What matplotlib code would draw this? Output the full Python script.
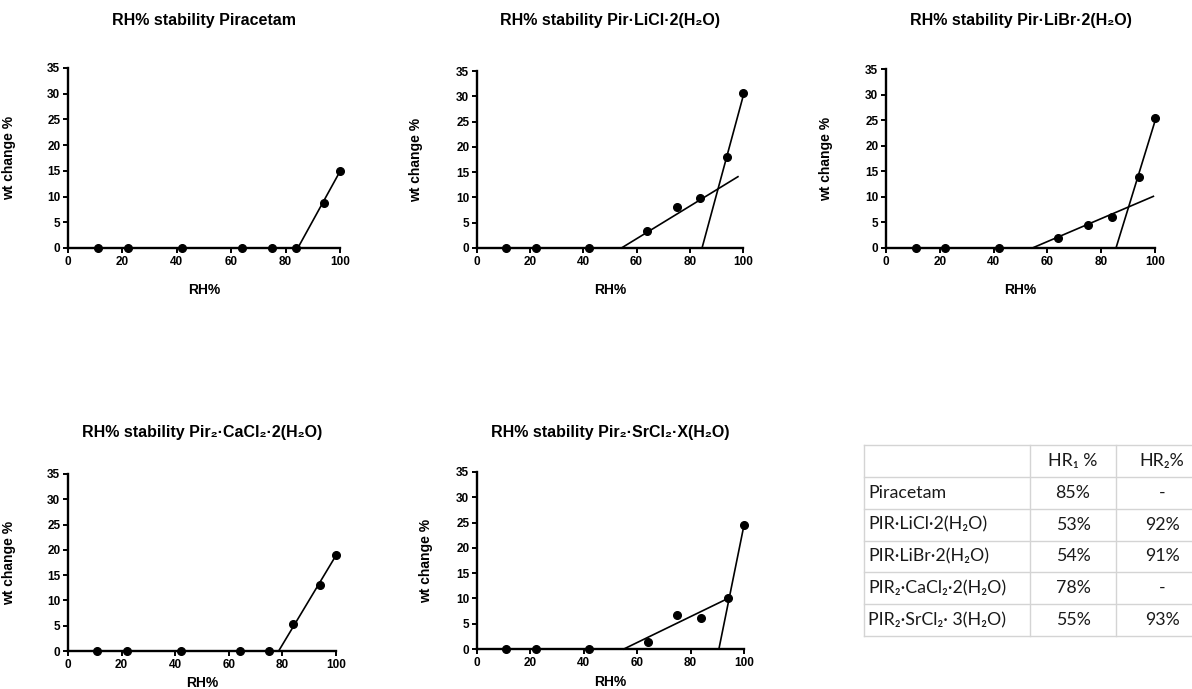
import matplotlib
matplotlib.use('Agg')
import matplotlib.pyplot as plt

plt.rcParams['font.family'] = ['Liberation Sans', 'DejaVu Sans']

W, H = 1192, 689

# RH% steps used for every sample
rh = [11, 22, 42, 64, 75, 84, 94, 100]

# weight change %
wt_pir = [0, 0, 0, 0, 0, 0, 8.8, 14.9]
wt_licl = [0, 0, 0, 3.3, 8.2, 9.9, 18.0, 30.7]
wt_libr = [0, 0, 0, 1.9, 4.4, 6.0, 13.8, 25.5]
wt_cacl = [0, 0, 0, 0, 0, 5.3, 13.1, 18.9]
wt_srcl = [0, 0, 0, 1.4, 6.8, 6.2, 10.0, 24.5]

# fitted lines, as (x ends, y ends)
fit_pir = [([84.5, 100], [0, 14.9])]
fit_licl = [([54.3, 98.1], [0, 14.1]), ([84.6, 100.4], [0, 30.7])]
fit_libr = [([54.4, 99.4], [0, 10.1]), ([85.5, 100.4], [0, 25.5])]
fit_cacl = [([78.6, 100], [0, 18.9])]
fit_srcl = [([55, 94], [0, 10.0]), ([90.6, 100], [0, 24.5])]

titles = ['RH% stability Piracetam',
          'RH% stability Pir·LiCl·2(H₂O)',
          'RH% stability Pir·LiBr·2(H₂O)',
          'RH% stability Pir₂·CaCl₂·2(H₂O)',
          'RH% stability Pir₂·SrCl₂·X(H₂O)']

# table contents
tbl_head = ['', 'HR₁ %', 'HR₂%']
tbl_rows = ['Piracetam', 'PIR·LiCl·2(H₂O)', 'PIR·LiBr·2(H₂O)',
            'PIR₂·CaCl₂·2(H₂O)', 'PIR₂·SrCl₂· 3(H₂O)']
tbl_hr1 = ['85%', '53%', '54%', '78%', '55%']
tbl_hr2 = ['-', '92%', '91%', '-', '93%']

# panel boxes in pixels: left, top, right, bottom ; title y, ylabel x, xlabel y
boxes = [(68, 68, 340, 248, 21, 16, 283),
         (477, 71, 743, 248, 21, 423, 283),
         (886, 69, 1155, 248, 21, 833, 283),
         (68, 474, 336, 651, 433, 16, 676),
         (477, 472, 744, 649, 433, 433, 675)]

series = [(wt_pir, fit_pir), (wt_licl, fit_licl), (wt_libr, fit_libr),
          (wt_cacl, fit_cacl), (wt_srcl, fit_srcl)]

fig = plt.figure(figsize=(W / 100, H / 100), dpi=100)

for (wt, fits), title, (l, t, r, b, ty, yl, xl) in zip(series, titles, boxes):
    ax = fig.add_axes([l / W, 1 - b / H, (r - l) / W, (b - t) / H])
    for fx, fy in fits:
        ax.plot(fx, fy, color='black', lw=1.2, clip_on=False)
    ax.plot(rh, wt, 'o', color='black', ms=5.5, clip_on=False, zorder=5)
    ax.set_xlim(0, 100)
    ax.set_ylim(0, 35)
    ax.set_xticks([0, 20, 40, 60, 80, 100])
    ax.set_yticks(range(0, 36, 5))
    for s in ['top', 'right']:
        ax.spines[s].set_visible(False)
    for s in ['left', 'bottom']:
        ax.spines[s].set_linewidth(1.7)
    ax.tick_params(direction='out', length=3.5, width=1.4, pad=2, labelsize=8.5)
    for lab in ax.get_xticklabels() + ax.get_yticklabels():
        lab.set_fontweight('bold')
    ax.set_xlabel('RH%', fontsize=10, fontweight='bold')
    ax.set_ylabel('wt change %', fontsize=10, fontweight='bold')
    ax.xaxis.set_label_coords(0.5, -(xl - b) / (b - t))
    ax.yaxis.set_label_coords(-(l - yl) / (r - l), 0.5)
    fig.text((l + r) / 2 / W, 1 - ty / H, title, ha='center', va='center',
             fontsize=11.5, fontweight='bold')

# summary table
tl, tt, tr, tb = 864, 445, 1192, 636
col_x = [864, 1030, 1116, 1208]
tax = fig.add_axes([tl / W, 1 - tb / H, (tr - tl) / W, (tb - tt) / H])
tax.set_xlim(tl, tr)
tax.set_ylim(tb, tt)
tax.axis('off')
nrow = len(tbl_rows) + 1
rowh = (tb - tt) / nrow
grid = '#d4d4d4'
for i in range(nrow + 1):
    tax.plot([col_x[0], col_x[-1]], [tt + i * rowh] * 2, color=grid, lw=1, clip_on=False)
for x in col_x[:3]:
    tax.plot([x, x], [tt, tb], color=grid, lw=1, clip_on=False)

cells = [tbl_head] + [[a, b, c] for a, b, c in zip(tbl_rows, tbl_hr1, tbl_hr2)]
tfont = ['Lato', 'DejaVu Sans']
tcol = '#1a1a1a'
for i, row in enumerate(cells):
    yc = tt + (i + 0.5) * rowh
    tax.text(col_x[0] + 4, yc, row[0], ha='left', va='center', fontsize=12.8,
             family=tfont, color=tcol)
    tax.text((col_x[1] + col_x[2]) / 2, yc, row[1], ha='center', va='center',
             fontsize=12.8, family=tfont, color=tcol)
    tax.text((col_x[2] + col_x[3]) / 2, yc, row[2], ha='center', va='center',
             fontsize=12.8, family=tfont, color=tcol, clip_on=False)

fig.savefig('out.png', dpi=100)
